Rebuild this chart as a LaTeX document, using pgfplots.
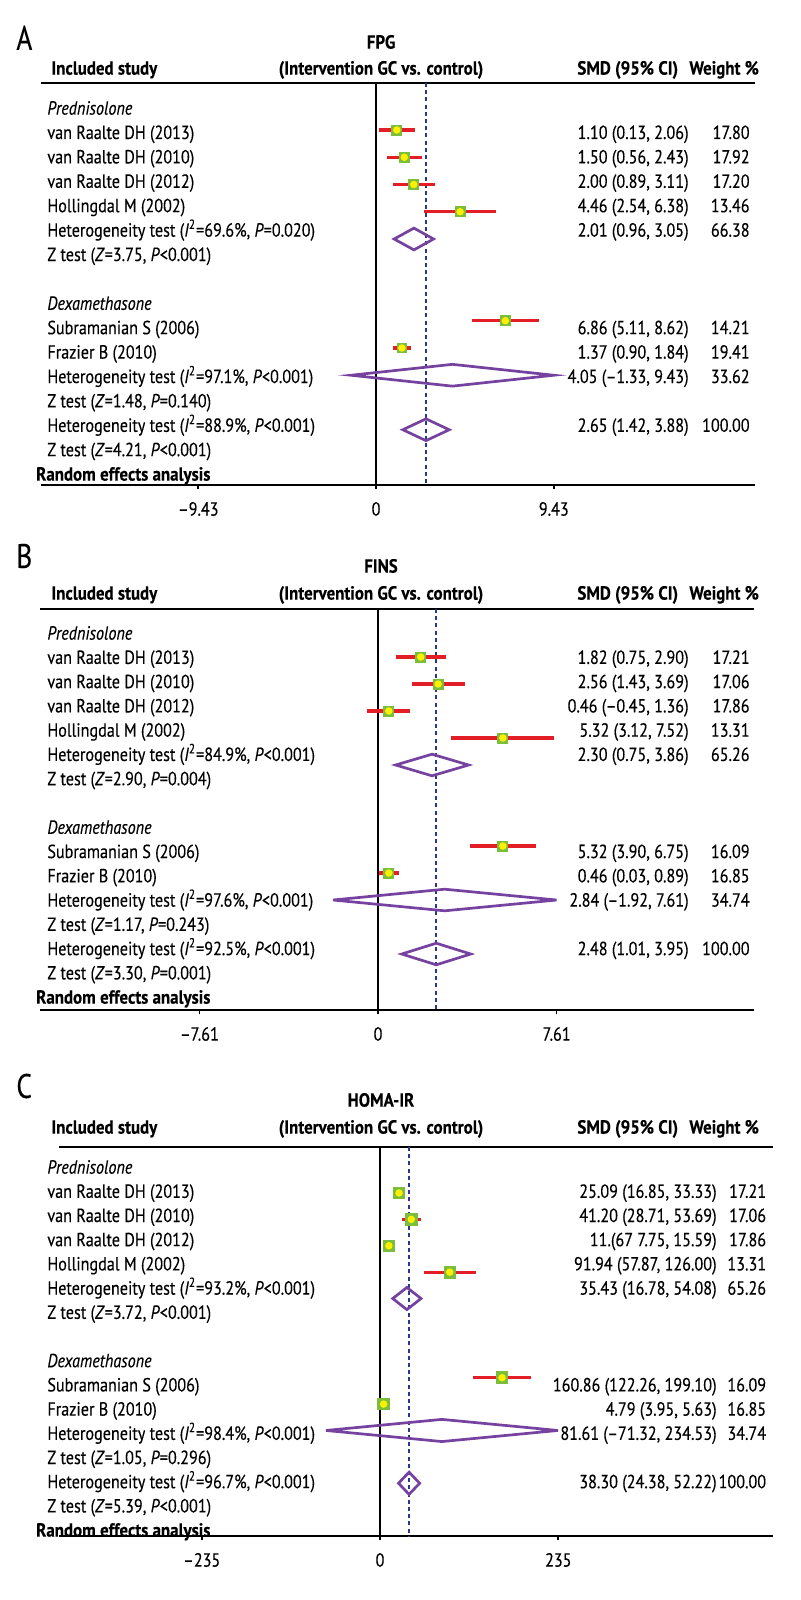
\documentclass[border=0pt]{standalone}
\usepackage{fontspec}
\setmainfont{PT Sans}[FakeStretch=0.85, FakeBold=0.25]
\usepackage{pgfplots}
\pgfplotsset{compat=1.18}
\usepackage{pgfplotstable}

\definecolor{ciRed}{RGB}{228,30,38}
\definecolor{sqGreen}{RGB}{122,190,60}
\definecolor{dotYellow}{RGB}{255,240,0}
\definecolor{diaPurple}{RGB}{117,66,160}
\definecolor{dashBlue}{RGB}{40,56,140}

% est lo hi y(slot)
\pgfplotstableread{
est lo hi y
1.10 0.13 2.06 0
1.50 0.56 2.43 -1
2.00 0.89 3.11 -2
4.46 2.54 6.38 -3
6.86 5.11 8.62 -7
1.37 0.90 1.84 -8
}\studA
\pgfplotstableread{
est lo hi y
1.82 0.75 2.90 0
2.56 1.43 3.69 -1
0.46 -0.45 1.36 -2
5.32 3.12 7.52 -3
5.32 3.90 6.75 -7
0.46 0.03 0.89 -8
}\studB
\pgfplotstableread{
est lo hi y
25.09 16.85 33.33 0
41.20 28.71 53.69 -1
11.67 7.75 15.59 -2
91.94 57.87 126.00 -3
160.86 122.26 199.10 -7
4.79 3.95 5.63 -8
}\studC

\tikzset{
  txt/.style={font=\fontsize{9.5}{11}\selectfont, inner sep=0pt, text height=6.6pt, text depth=0pt},
  hdr/.style={txt, font=\fontsize{9.5}{11}\selectfont\bfseries\addfontfeature{FakeStretch=0.89}},
  big/.style={font=\fontsize{17}{19}\selectfont\addfontfeature{FakeStretch=0.8}, inner sep=0pt, text height=11.9pt, text depth=0pt, anchor=west},
}
\newcommand\Row[4]{%
  \node[txt,anchor=west] at (47,{\rb+\rs*#1}) {#2};
  \node[txt,anchor=east] at (\sx,{\rb+\rs*#1}) {#3};
  \node[txt,anchor=east] at (\wx,{\rb+\rs*#1}) {#4};}
\newcommand\Het[2]{Heterogeneity test (\textit{I}\textsuperscript{2}=#1\%, \textit{P}#2)}
\newcommand\Zt[2]{Z test (\textit{Z}=#1, \textit{P}#2)}

\pgfplotsset{
  forest/.style={
    anchor=south west, scale only axis, clip=false,
    axis y line=none, axis x line*=bottom,
    x axis line style={-, line width=1.35pt},
    tick align=outside, major tick length=2pt,
    xtick style={line width=0.8pt, black},
    xticklabel style={font=\fontsize{9.5}{11}\selectfont, yshift=-3pt},
  },
  sq/.style={only marks, mark=square*, color=sqGreen, mark options={fill=sqGreen, draw=sqGreen}, forget plot},
  yel/.style={only marks, mark=*, mark size=1.65pt, color=dotYellow, mark options={fill=dotYellow, draw=dotYellow}, forget plot},
  ci/.style={draw=none, mark=none, forget plot, error bars/.cd, x dir=both, x explicit, error mark=none,
    error bar style={draw=ciRed, line width=1.6pt}},
  dia/.style={draw=diaPurple, line width=1.35pt, mark=none, forget plot},
  pool/.style={draw=dashBlue, line width=0.85pt, dash pattern=on 2pt off 1.6pt, mark=none, forget plot},
}

\begin{document}
\begin{tikzpicture}
\useasboundingbox (0,0) rectangle (400pt,-800pt);

% ---------------- Panel A ----------------
\begin{axis}[forest, at={(20.45pt,-242.5pt)}, width=357.2pt, height=201pt,
  xmin=-17.78, xmax=20.12, ymin=-13.028, ymax=1.725,
  xtick={-9.43,0,9.43}, xticklabels={–9.43,0,9.43}]
\draw[line width=1.35pt] (axis cs:-17.78,1.725) -- (axis cs:20.12,1.725);
\draw[line width=0.9pt] (axis cs:0,1.725) -- (axis cs:0,-13.028);
\addplot[pool] coordinates {(2.65,1.725) (2.65,-13.028)};
\addplot[sq, mark size=2.45pt] table[x=est,y=y] {\studA};
\addplot[ci] table[x=est,y=y, x error plus expr=\thisrow{hi}-\thisrow{est}, x error minus expr=\thisrow{est}-\thisrow{lo}] {\studA};
\addplot[yel] table[x=est,y=y] {\studA};
\addplot[dia] coordinates {(0.96,-4) (2.01,-3.6) (3.05,-4) (2.01,-4.4)} -- cycle;
\addplot[dia] coordinates {(-1.33,-9) (4.05,-8.6) (9.43,-9) (4.05,-9.4)} -- cycle;
\addplot[dia] coordinates {(1.42,-11) (2.65,-10.6) (3.88,-11) (2.65,-11.4)} -- cycle;
\end{axis}

% ---------------- Panel B ----------------
\begin{axis}[forest, at={(19.95pt,-505pt)}, width=356.9pt, height=200.5pt,
  xmin=-14.41, xmax=16.01, ymin=-13.074, ymax=1.778,
  xtick={-7.61,0,7.61}, xticklabels={–7.61,0,7.61}]
\draw[line width=1.35pt] (axis cs:-14.41,1.778) -- (axis cs:16.01,1.778);
\draw[line width=0.9pt] (axis cs:0,1.778) -- (axis cs:0,-13.074);
\addplot[pool] coordinates {(2.48,1.778) (2.48,-13.074)};
\addplot[sq, mark size=2.5pt] table[x=est,y=y] {\studB};
\addplot[ci] table[x=est,y=y, x error plus expr=\thisrow{hi}-\thisrow{est}, x error minus expr=\thisrow{est}-\thisrow{lo}] {\studB};
\addplot[yel] table[x=est,y=y] {\studB};
\addplot[dia] coordinates {(0.75,-4) (2.30,-3.6) (3.86,-4) (2.30,-4.4)} -- cycle;
\addplot[dia] coordinates {(-1.92,-9) (2.84,-8.6) (7.61,-9) (2.84,-9.4)} -- cycle;
\addplot[dia] coordinates {(1.01,-11) (2.48,-10.6) (3.95,-11) (2.48,-11.4)} -- cycle;
\end{axis}

% ---------------- Panel C ----------------
\begin{axis}[forest, at={(29.4pt,-768pt)}, width=356.9pt, height=194.5pt,
  xmin=-423.4, xmax=517.5, ymin=-13.0, ymax=1.742,
  xtick={-235,0,235}, xticklabels={–235,0,235}]
\draw[line width=1.35pt] (axis cs:-423.4,1.742) -- (axis cs:517.5,1.742);
\draw[line width=0.9pt] (axis cs:0,1.742) -- (axis cs:0,-13.0);
\addplot[pool] coordinates {(38.30,1.742) (38.30,-13.0)};
\addplot[sq, mark size=2.9pt] table[x=est,y=y] {\studC};
\addplot[ci] table[x=est,y=y, x error plus expr=\thisrow{hi}-\thisrow{est}, x error minus expr=\thisrow{est}-\thisrow{lo}] {\studC};
\addplot[yel] table[x=est,y=y] {\studC};
\addplot[dia] coordinates {(16.78,-4) (35.43,-3.58) (54.08,-4) (35.43,-4.42)} -- cycle;
\addplot[dia] coordinates {(-71.32,-9) (81.61,-8.58) (234.53,-9) (81.61,-9.42)} -- cycle;
\addplot[dia] coordinates {(24.38,-11) (38.30,-10.58) (52.22,-11) (38.30,-11.42)} -- cycle;
\end{axis}

\begin{scope}[x=0.5pt, y=-0.5pt]
% ===== Panel A text =====
\node[big] at (16,38) {A};
\node[hdr] at (381,42) {FPG};
\node[hdr,anchor=west] at (51,68) {Included study};
\node[hdr] at (381,68) {(Intervention GC vs. control)};
\node[hdr,anchor=west] at (577,68) {SMD (95\% CI)};
\node[hdr,anchor=west] at (689,68) {Weight \%};
\def\rb{108}\def\rs{24.4}\def\sx{689}\def\wx{750}
\Row{0}{\textit{Prednisolone}}{}{}
\Row{1}{van Raalte DH (2013)}{1.10 (0.13, 2.06)}{17.80}
\Row{2}{van Raalte DH (2010)}{1.50 (0.56, 2.43)}{17.92}
\Row{3}{van Raalte DH (2012)}{2.00 (0.89, 3.11)}{17.20}
\Row{4}{Hollingdal M (2002)}{4.46 (2.54, 6.38)}{13.46}
\Row{5}{\Het{69.6}{=0.020}}{2.01 (0.96, 3.05)}{66.38}
\Row{6}{\Zt{3.75}{<0.001}}{}{}
\Row{8}{\textit{Dexamethasone}}{}{}
\Row{9}{Subramanian S (2006)}{6.86 (5.11, 8.62)}{14.21}
\Row{10}{Frazier B (2010)}{1.37 (0.90, 1.84)}{19.41}
\Row{11}{\Het{97.1}{<0.001}}{4.05 (–1.33, 9.43)}{33.62}
\Row{12}{\Zt{1.48}{=0.140}}{}{}
\Row{13}{\Het{88.9}{<0.001}}{2.65 (1.42, 3.88)}{100.00}
\Row{14}{\Zt{4.21}{<0.001}}{}{}
\node[hdr,anchor=west] at (35.8,{\rb+\rs*15}) {Random effects analysis};

% ===== Panel B text =====
\node[big] at (16,556) {B};
\node[hdr] at (381,566) {FINS};
\node[hdr,anchor=west] at (51,593) {Included study};
\node[hdr] at (381,593) {(Intervention GC vs. control)};
\node[hdr,anchor=west] at (577,593) {SMD (95\% CI)};
\node[hdr,anchor=west] at (689,593) {Weight \%};
\def\rb{633}\def\rs{24.27}\def\sx{689}\def\wx{750}
\Row{0}{\textit{Prednisolone}}{}{}
\Row{1}{van Raalte DH (2013)}{1.82 (0.75, 2.90)}{17.21}
\Row{2}{van Raalte DH (2010)}{2.56 (1.43, 3.69)}{17.06}
\Row{3}{van Raalte DH (2012)}{0.46 (–0.45, 1.36)}{17.86}
\Row{4}{Hollingdal M (2002)}{5.32 (3.12, 7.52)}{13.31}
\Row{5}{\Het{84.9}{<0.001}}{2.30 (0.75, 3.86)}{65.26}
\Row{6}{\Zt{2.90}{=0.004}}{}{}
\Row{8}{\textit{Dexamethasone}}{}{}
\Row{9}{Subramanian S (2006)}{5.32 (3.90, 6.75)}{16.09}
\Row{10}{Frazier B (2010)}{0.46 (0.03, 0.89)}{16.85}
\Row{11}{\Het{97.6}{<0.001}}{2.84 (–1.92, 7.61)}{34.74}
\Row{12}{\Zt{1.17}{=0.243}}{}{}
\Row{13}{\Het{92.5}{<0.001}}{2.48 (1.01, 3.95)}{100.00}
\Row{14}{\Zt{3.30}{=0.001}}{}{}
\node[hdr,anchor=west] at (35.8,{\rb+\rs*15}) {Random effects analysis};

% ===== Panel C text =====
\node[big] at (16,1086) {C};
\node[hdr] at (381,1100) {HOMA-IR};
\node[hdr,anchor=west] at (51,1127) {Included study};
\node[hdr] at (381,1127) {(Intervention GC vs. control)};
\node[hdr,anchor=west] at (577,1127) {SMD (95\% CI)};
\node[hdr,anchor=west] at (689,1127) {Weight \%};
\def\rb{1167}\def\rs{24.2}\def\sx{717}\def\wx{766.5}
\Row{0}{\textit{Prednisolone}}{}{}
\Row{1}{van Raalte DH (2013)}{25.09 (16.85, 33.33)}{17.21}
\Row{2}{van Raalte DH (2010)}{41.20 (28.71, 53.69)}{17.06}
\Row{3}{van Raalte DH (2012)}{11.(67 7.75, 15.59)}{17.86}
\Row{4}{Hollingdal M (2002)}{91.94 (57.87, 126.00)}{13.31}
\Row{5}{\Het{93.2}{<0.001}}{35.43 (16.78, 54.08)}{65.26}
\Row{6}{\Zt{3.72}{<0.001}}{}{}
\Row{8}{\textit{Dexamethasone}}{}{}
\Row{9}{Subramanian S (2006)}{160.86 (122.26, 199.10)}{16.09}
\Row{10}{Frazier B (2010)}{4.79 (3.95, 5.63)}{16.85}
\Row{11}{\Het{98.4}{<0.001}}{81.61 (–71.32, 234.53)}{34.74}
\Row{12}{\Zt{1.05}{=0.296}}{}{}
\Row{13}{\Het{96.7}{<0.001}}{38.30 (24.38, 52.22)}{100.00}
\Row{14}{\Zt{5.39}{<0.001}}{}{}
\node[hdr,anchor=west] at (35.8,{\rb+\rs*15}) {Random effects analysis};
\end{scope}
\end{tikzpicture}
\end{document}
